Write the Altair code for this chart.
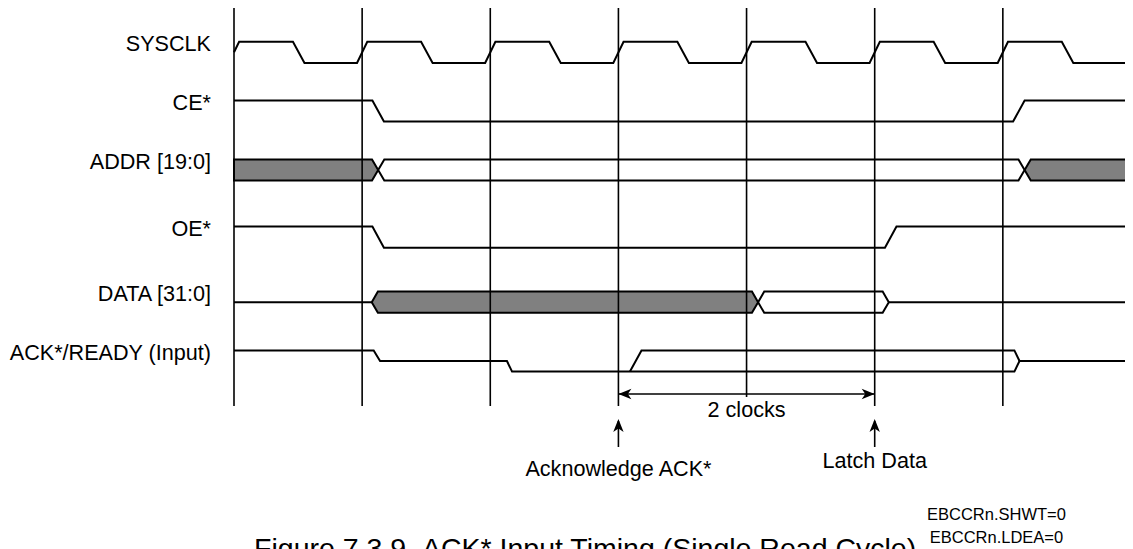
import altair as alt
import pandas as pd

# ---------------- data: time in clock periods, level 1 = high, 0 = mid / Hi-Z, -1 = low
SIGNALS = ["SYSCLK", "CE*", "ADDR [19:0]", "OE*", "DATA [31:0]", "ACK*/READY (Input)"]
CLOCK_EDGES = [0, 1, 2, 3, 4, 5, 6, 7]

SYSCLK_T = [0.0, 0.04, 0.46, 0.55, 0.96, 1.04, 1.46, 1.55, 1.96, 2.04, 2.46, 2.55,
            2.96, 3.04, 3.46, 3.55, 3.96, 4.04, 4.46, 4.55, 4.96, 5.04, 5.46, 5.55,
            5.96, 6.04, 6.46, 6.55, 6.96, 7.0]
SYSCLK_L = [0, 1, 1, -1, -1, 1, 1, -1, -1, 1, 1, -1, -1, 1, 1, -1, -1, 1, 1, -1, -1,
            1, 1, -1, -1, 1, 1, -1, -1, 0]
CE_T = [0.0, 1.08, 1.17, 6.08, 6.17, 7.0]
CE_L = [1, 1, -1, -1, 1, 1]
OE_T = [0.0, 1.08, 1.17, 5.08, 5.17, 7.0]
OE_L = [1, 1, -1, -1, 1, 1]
DATA_Z1_T = [0.0, 1.075]
DATA_Z1_L = [0, 0]
DATA_Z2_T = [5.11, 7.0]
DATA_Z2_L = [0, 0]
ACK_LOW_T = [0.0, 1.09, 1.14, 2.13, 2.17, 6.09, 6.13, 7.0]
ACK_LOW_L = [1, 1, 0, 0, -1, -1, 0, 0]
ACK_HIGH_T = [3.09, 3.18, 6.09, 6.13]
ACK_HIGH_L = [-1, 1, 1, 0]

ADDR_EDGES = [0.0, 1.125, 6.17, 7.0]
ADDR_STATE = ["invalid", "valid", "invalid"]
DATA_EDGES = [1.075, 4.09, 5.11]
DATA_STATE = ["invalid", "valid"]

ACK_EDGE = 3      # Acknowledge ACK*
LATCH_EDGE = 5    # Latch Data
SPAN_LABEL = "2 clocks"
ANNOTATIONS = ["Acknowledge ACK*", "Latch Data"]
NOTES = ["EBCCRn.SHWT=0", "EBCCRn.LDEA=0"]
CAPTION = "Figure 7.3.9\u00a0\u00a0ACK* Input Timing (Single Read Cycle)"

# ---------------- layout (page pixels)
W, H = 1117, 541
EDGE0_PX, PERIOD_PX = 226.0, 128.14
ROW_Y = [52.3, 111.0, 170.0, 237.2, 302.2, 361.0]
SWING = 10.6
HW = 0.048
GRID_TOP = 8
GRID_BOTTOM = [406, 406, 406, 406, 397, 406, 406, 406]
FONT = "Liberation Sans, Arial, sans-serif"
FILL = {"invalid": "#808080", "valid": "#ffffff"}

X_DOMAIN = [-EDGE0_PX / PERIOD_PX, (W - EDGE0_PX) / PERIOD_PX]
xs = alt.Scale(domain=X_DOMAIN, nice=False, zero=False)
ys = alt.Scale(domain=[8, 8 + H], reverse=True, nice=False, zero=False)


def X(f="t"):
    return alt.X(f"{f}:Q", scale=xs, axis=None)


def Y(f="y"):
    return alt.Y(f"{f}:Q", scale=ys, axis=None)


# waveform polylines
wave_rows = []
waves = [
    (0, "clk", SYSCLK_T, SYSCLK_L), (1, "ce", CE_T, CE_L), (3, "oe", OE_T, OE_L),
    (4, "dz1", DATA_Z1_T, DATA_Z1_L), (4, "dz2", DATA_Z2_T, DATA_Z2_L),
    (5, "ackl", ACK_LOW_T, ACK_LOW_L), (5, "ackh", ACK_HIGH_T, ACK_HIGH_L),
]
for row, seg, ts, ls in waves:
    for i, (t, l) in enumerate(zip(ts, ls)):
        wave_rows.append({"seg": seg, "i": i, "t": t, "y": ROW_Y[row] - l * SWING})
wave_df = pd.DataFrame(wave_rows)

# bus segments as areas
bus_rows = []


def add_bus(name, row, edges, states, flat_ends):
    c = ROW_Y[row]
    for k, st in enumerate(states):
        e0, e1 = edges[k], edges[k + 1]
        seg = f"{name}{k}"
        pts = []
        if k == 0 and flat_ends:
            pts.append((e0, c - SWING, c + SWING))
        else:
            pts += [(e0, c, c), (e0 + HW, c - SWING, c + SWING)]
        if k == len(states) - 1 and flat_ends:
            pts.append((e1, c - SWING, c + SWING))
        else:
            pts += [(e1 - HW, c - SWING, c + SWING), (e1, c, c)]
        for t, top, bot in pts:
            bus_rows.append({"seg": seg, "t": t, "top": top, "bot": bot, "fill": FILL[st]})


add_bus("addr", 2, ADDR_EDGES, ADDR_STATE, True)
add_bus("data", 4, DATA_EDGES, DATA_STATE, False)
bus_df = pd.DataFrame(bus_rows)

grid_df = pd.DataFrame({"t": CLOCK_EDGES, "y": [GRID_TOP] * 8, "y2": GRID_BOTTOM})
label_df = pd.DataFrame({"t": [0] * 6, "y": ROW_Y, "text": SIGNALS})

ARROW_Y = 394
span_df = pd.DataFrame({"t": [ACK_EDGE], "t2": [LATCH_EDGE], "y": [ARROW_Y]})
up_df = pd.DataFrame({"t": [ACK_EDGE, LATCH_EDGE], "y": [421, 421], "y2": [447, 447]})
tipl_df = pd.DataFrame({"t": [ACK_EDGE], "y": [ARROW_Y]})
tipr_df = pd.DataFrame({"t": [LATCH_EDGE], "y": [ARROW_Y]})
tipu_df = pd.DataFrame({"t": [ACK_EDGE, LATCH_EDGE], "y": [419, 419]})

grid = alt.Chart(grid_df).mark_rule(color="black", strokeWidth=1.6).encode(
    x=X(), y=Y(), y2="y2:Q")
areas = alt.Chart(bus_df).mark_area(stroke="black", strokeWidth=2, strokeJoin="miter").encode(
    x=X(), y=Y("top"), y2="bot:Q", detail="seg:N", fill=alt.Fill("fill:N", scale=None))
lines = alt.Chart(wave_df).mark_line(color="black", strokeWidth=2, strokeJoin="miter").encode(
    x=X(), y=Y(), detail="seg:N", order="i:Q")
labels = alt.Chart(label_df).mark_text(
    align="right", baseline="middle", dx=-23, dy=-7, font=FONT, fontSize=21.6, color="black"
).encode(x=X(), y=Y(), text="text:N")

span = alt.Chart(span_df).mark_rule(color="black", strokeWidth=1.6).encode(
    x=X(), x2="t2:Q", y=Y())
ups = alt.Chart(up_df).mark_rule(color="black", strokeWidth=1.6).encode(
    x=X(), y=Y(), y2="y2:Q")
tipl = alt.Chart(tipl_df).mark_point(
    shape="M0,0 L2,-0.8 L1.45,0 L2,0.8 Z", size=169, filled=True, color="black", opacity=1
).encode(x=X(), y=Y())
tipr = alt.Chart(tipr_df).mark_point(
    shape="M0,0 L-2,-0.8 L-1.45,0 L-2,0.8 Z", size=169, filled=True, color="black", opacity=1
).encode(x=X(), y=Y())
tipu = alt.Chart(tipu_df).mark_point(
    shape="M0,0 L-0.8,2 L0,1.45 L0.8,2 Z", size=169, filled=True, color="black", opacity=1
).encode(x=X(), y=Y())

ann_df = pd.DataFrame({
    "t": [4.0, ACK_EDGE, LATCH_EDGE],
    "y": [411, 470, 462],
    "text": [SPAN_LABEL] + ANNOTATIONS,
})
ann = alt.Chart(ann_df).mark_text(
    align="center", baseline="middle", font=FONT, fontSize=21.6, color="black"
).encode(x=X(), y=Y(), text="text:N")

notes_df = pd.DataFrame({"t": [5.95, 5.95], "y": [515, 538], "text": NOTES})
notes = alt.Chart(notes_df).mark_text(
    align="center", baseline="middle", font=FONT, fontSize=16.5, color="black"
).encode(x=X(), y=Y(), text="text:N")

cap_df = pd.DataFrame({"t": [2.74], "y": [535], "text": [CAPTION]})
cap = alt.Chart(cap_df).mark_text(
    align="center", baseline="top", font=FONT, fontSize=28.5, color="black"
).encode(x=X(), y=Y(), text="text:N")

chart = alt.layer(
    areas, lines, grid, span, ups, tipl, tipr, tipu, labels, ann, notes, cap
).properties(
    width=W, height=H, autosize=alt.AutoSizeParams(type="none"), padding=0,
    background="white"
).configure_view(strokeWidth=0)

chart.save("out.html", embed_options={"renderer": "svg", "actions": False})
